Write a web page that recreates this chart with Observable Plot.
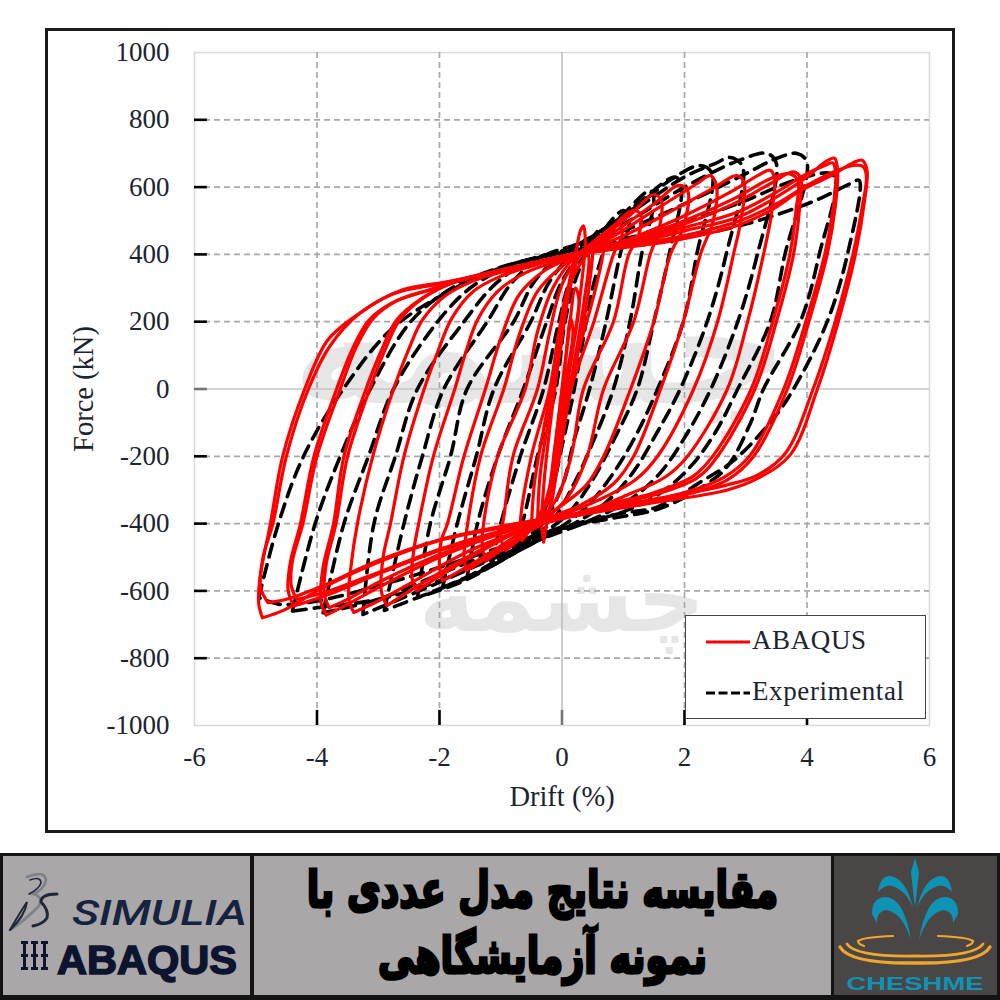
<!DOCTYPE html>
<html><head><meta charset="utf-8">
<script src="https://cdn.jsdelivr.net/npm/d3@7"></script>
<script src="https://cdn.jsdelivr.net/npm/@observablehq/plot@0.6"></script>
<style>
html,body{margin:0;padding:0;background:#fff;width:1000px;height:1000px;overflow:hidden}
#page{position:relative;width:1000px;height:1000px}
#box{position:absolute;left:45px;top:28px;width:904px;height:799px;border:3px solid #1a1a1a}
#chart{position:absolute;left:0;top:0;width:1000px;height:850px}
#legend{position:absolute;left:685px;top:615px;width:239px;height:102px;background:#fff;border:1.5px solid #444;font-family:"Liberation Serif",serif;font-size:27px;color:#1c2430}
#banner{position:absolute;left:0;top:853px;width:1000px;height:147px;background:#141414}
.cell{position:absolute;top:3px;height:139px;background:#a9a7a8}
.cell svg{overflow:visible}
#title{font-family:"DejaVu Sans",sans-serif;font-weight:bold;color:#000;-webkit-text-stroke:3px #000;text-align:center;direction:rtl;font-size:50px;transform:scaleX(.733);white-space:nowrap}
</style></head><body>
<div id="page">
<div id="box"></div>
<div id="chart"></div>
<div id="legend">
<svg width="239" height="102" style="position:absolute;left:0;top:0">
<line id="legA" x1="20" x2="64" y1="26" y2="26" stroke="#ff0000" stroke-width="3"/>
<line id="legE" x1="20" x2="64" y1="77" y2="77" stroke="#000" stroke-width="3" stroke-dasharray="9 3.5"/>
</svg>
<div id="legAt" style="position:absolute;left:66px;top:9px;letter-spacing:.6px"></div>
<div id="legEt" style="position:absolute;left:66px;top:60px;letter-spacing:.6px"></div>
</div>
<div id="banner">
<div class="cell" style="left:3px;width:247px">
<svg width="247" height="139" style="position:absolute;left:0;top:0">
<g fill="none" stroke-linecap="round">
<path d="M24 21 Q42 14 43 24 Q41 34 30 38 Q40 40 36 50 Q20 66 7 74" stroke="#7d8088" stroke-width="2.6"/>
<path d="M7 74 Q16 58 24 46 Q22 60 7 74" stroke="#22263a" stroke-width="2"/>
<path d="M27 24 Q38 20 38 27 Q36 33 26 38" stroke="#22263a" stroke-width="1.6"/>
<path d="M54 38 Q38 38 38 46 Q46 54 44 62 Q40 68 30 70" stroke="#22263a" stroke-width="3"/>
</g>
<text x="69" y="69" font-family="Roboto,sans-serif" font-style="italic" font-size="35" font-weight="500" fill="#16233f" textLength="175" lengthAdjust="spacingAndGlyphs">SIMULIA</text>
<text x="54" y="118" font-family="'Liberation Sans',sans-serif" font-weight="bold" font-size="41" fill="#0d1430" stroke="#0d1430" stroke-width="1.6" textLength="180" lengthAdjust="spacingAndGlyphs">ABAQUS</text>
<g fill="#0d1430">
<rect x="18" y="85" width="7" height="3"/><rect x="28" y="85" width="7" height="3"/><rect x="38" y="85" width="7" height="3"/>
<rect x="20" y="88" width="3" height="10"/><rect x="30" y="88" width="3" height="10"/><rect x="40" y="88" width="3" height="10"/>
<rect x="18" y="98" width="7" height="3"/><rect x="28" y="98" width="7" height="3"/><rect x="38" y="98" width="7" height="3"/>
<rect x="20" y="101" width="3" height="10"/><rect x="30" y="101" width="3" height="10"/><rect x="40" y="101" width="3" height="10"/>
<rect x="18" y="111" width="7" height="3"/><rect x="28" y="111" width="7" height="3"/><rect x="38" y="111" width="7" height="3"/>
</g>
</svg>
</div>
<div class="cell" style="left:254px;width:577px">
<div id="title" style="position:absolute;left:-80px;top:1px;width:737px;line-height:66px"><div id="t1"></div><div id="t2"></div></div>
</div>
<div class="cell" style="left:834px;width:163px;background:#4a4646">
<svg width="163" height="139" style="position:absolute;left:0;top:0">
<g fill="#0f93b4">
<path d="M81 2 L85 16 L82 44 L81 50 L80 44 L77 16 Z"/>
<path d="M79 52 Q72 22 56 20 Q46 20 44 36 Q52 28 58 30 Q72 34 79 52 Z"/>
<path d="M83 52 Q90 22 106 20 Q116 20 118 36 Q110 28 104 30 Q90 34 83 52 Z"/>
<path d="M77 84 Q70 42 52 41 Q38 41 38 58 L43 67 Q42 56 52 54 Q68 56 77 84 Z"/>
<path d="M85 84 Q92 42 110 41 Q124 41 124 58 L119 67 Q120 56 110 54 Q94 56 85 84 Z"/>
</g>
<g fill="none" stroke="#f0a62b" stroke-linecap="round">
<path d="M59 80 Q30 81 24 85 Q24 88 30 90" stroke-width="2.2"/>
<path d="M104 80 Q133 81 139 85 Q139 88 133 90" stroke-width="2.2"/>
<path d="M13 88 Q22 101 81 100 Q140 101 149 88" stroke-width="2.8"/>
<path d="M6 91 Q16 108 81 107 Q146 108 156 91" stroke-width="3.4"/>
</g>
<text x="81" y="134" text-anchor="middle" font-family="'Liberation Sans',sans-serif" font-weight="bold" font-size="19" fill="#0f93b4" textLength="137" lengthAdjust="spacingAndGlyphs">CHESHME</text>
</svg>
</div>
</div>
</div>
<script>
const xTicks=[-6,-4,-2,0,2,4,6];
const yTicks=[-1000,-800,-600,-400,-200,0,200,400,600,800,1000];
const xGrid=[-4,-2,2,4];
const yGrid=[-800,-600,-400,-200,200,400,600,800];
const seriesNames=["ABAQUS","Experimental"];
const titleLines=["مقایسه نتایج مدل عددی با","نمونه آزمایشگاهی"];
const watermark=["چشمه"];

const abaqus01=[[-4.89,-680],[-4.95,-640],[-4.93,-560],[-4.76,-400],[-4.56,-200],[-4.2,0],[-3.83,144],[-3.4,213],[-2.75,283],[-1.98,313],[-0.8,358],[0,391],[1,420],[1.82,441],[2.86,486],[3.4,530],[3.9,590],[4.4,635],[4.75,672],[4.9,680],[4.98,650],[4.94,560],[4.79,400],[4.51,200],[4.17,0],[3.73,-195],[3.2,-265],[2.7,-300],[1.6,-335],[0,-382],[-0.9,-410],[-2,-450],[-3.07,-520],[-3.9,-590],[-4.55,-658],[-4.89,-680]];
const abaqus02=[[-4.8,-635],[-4.92,-590],[-4.88,-500],[-4.72,-400],[-4.5,-200],[-4.14,0],[-3.78,130],[-3.3,225],[-2.6,295],[-1.9,318],[-0.8,360],[0,395],[1,425],[1.9,452],[2.9,500],[3.5,550],[4.0,605],[4.5,650],[4.8,665],[4.92,660],[4.97,630],[4.9,540],[4.75,400],[4.46,200],[4.1,0],[3.65,-190],[3.2,-255],[2.7,-285],[1.6,-325],[0,-378],[-0.9,-405],[-2,-448],[-3.07,-515],[-3.9,-585],[-4.5,-625],[-4.8,-635]];
const abaqus03=[[-4.38,-645],[-4.47,-600],[-4.44,-520],[-4.27,-400],[-4.05,-200],[-3.68,0],[-3.42,120],[-3.15,205],[-2.75,258],[-2.2,292],[-1.6,325],[-0.8,358],[0,392],[1,425],[2,470],[2.86,510],[3.5,570],[4,630],[4.3,675],[4.45,686],[4.5,650],[4.46,540],[4.33,400],[4.03,200],[3.68,0],[3.13,-200],[2.7,-270],[2,-315],[1,-350],[0,-385],[-1,-425],[-2,-480],[-3,-550],[-3.8,-610],[-4.38,-645]];
const abaqus04=[[-4.33,-625],[-4.42,-585],[-4.4,-510],[-4.23,-400],[-4.0,-200],[-3.62,0],[-3.36,125],[-3.08,210],[-2.7,262],[-2.15,296],[-1.6,328],[-0.8,360],[0,394],[1,430],[2,480],[2.86,525],[3.5,585],[4,640],[4.3,665],[4.42,672],[4.47,640],[4.42,530],[4.29,400],[3.98,200],[3.62,0],[3.08,-195],[2.65,-262],[2,-308],[1,-345],[0,-382],[-1,-422],[-2,-476],[-3,-545],[-3.8,-600],[-4.33,-625]];
const abaqus05=[[-3.85,-672],[-3.94,-630],[-3.9,-530],[-3.73,-400],[-3.56,-200],[-3.2,0],[-2.96,110],[-2.7,205],[-2.3,268],[-1.8,315],[-1,350],[0,392],[1,430],[2,490],[2.8,550],[3.4,610],[3.78,645],[3.9,625],[3.88,540],[3.78,400],[3.5,200],[3.15,0],[2.54,-200],[2.2,-265],[1.5,-315],[0.7,-350],[0,-385],[-1,-430],[-2,-500],[-3,-590],[-3.5,-640],[-3.85,-672]];
const abaqus06=[[-3.8,-650],[-3.88,-610],[-3.85,-520],[-3.69,-400],[-3.5,-200],[-3.14,0],[-2.9,112],[-2.64,208],[-2.25,272],[-1.75,318],[-1,354],[0,394],[1,436],[2,500],[2.8,565],[3.4,625],[3.7,640],[3.85,620],[3.82,530],[3.72,400],[3.44,200],[3.09,0],[2.48,-195],[2.15,-258],[1.5,-308],[0.7,-345],[0,-382],[-1,-426],[-2,-492],[-3,-575],[-3.5,-625],[-3.8,-650]];
const abaqus07=[[-3.4,-664],[-3.48,-625],[-3.44,-520],[-3.34,-400],[-3.09,-200],[-2.75,0],[-2.52,110],[-2.28,205],[-1.9,278],[-1.4,325],[-0.7,360],[0,392],[1,440],[2,515],[2.8,590],[3.2,635],[3.4,650],[3.47,625],[3.42,520],[3.29,400],[3.03,200],[2.7,0],[2.05,-200],[1.7,-260],[1,-320],[0.3,-370],[-0.5,-410],[-1.5,-480],[-2.5,-580],[-3,-630],[-3.4,-664]];
const abaqus08=[[-2.86,-644],[-2.95,-600],[-2.92,-500],[-2.8,-400],[-2.58,-200],[-2.25,0],[-2.03,110],[-1.8,210],[-1.45,290],[-1,335],[-0.4,370],[0.2,400],[1,455],[1.8,530],[2.5,600],[2.85,634],[2.97,615],[2.93,510],[2.8,400],[2.54,200],[2.15,0],[1.56,-200],[1.2,-270],[0.6,-330],[0,-375],[-0.8,-430],[-1.6,-505],[-2.4,-590],[-2.86,-644]];
const abaqus09=[[-2.37,-600],[-2.45,-560],[-2.42,-480],[-2.34,-400],[-2.1,-200],[-1.75,0],[-1.57,110],[-1.38,205],[-1.05,290],[-0.6,345],[0,385],[0.7,440],[1.5,530],[2.2,610],[2.42,634],[2.52,605],[2.47,500],[2.26,400],[1.98,200],[1.61,0],[1.17,-200],[0.85,-280],[0.3,-345],[-0.4,-395],[-1.2,-470],[-1.9,-545],[-2.37,-600]];
const abaqus10=[[-1.95,-570],[-2,-525],[-1.97,-450],[-1.87,-400],[-1.6,-200],[-1.25,0],[-1,150],[-0.7,280],[-0.3,350],[0.2,395],[0.8,460],[1.5,550],[1.9,605],[2.05,590],[1.98,480],[1.77,400],[1.5,200],[1.12,0],[0.68,-200],[0.4,-285],[0,-345],[-0.5,-405],[-1.2,-490],[-1.95,-570]];
const abaqus11=[[-1.56,-540],[-1.6,-500],[-1.54,-400],[-1.33,-200],[-0.95,0],[-0.7,160],[-0.4,290],[0,365],[0.5,430],[1.1,515],[1.5,578],[1.62,560],[1.58,470],[1.44,400],[1.17,200],[0.68,0],[0.41,-200],[0.1,-320],[-0.3,-390],[-0.9,-465],[-1.56,-540]];
const abaqus12=[[-1.24,-510],[-1.3,-470],[-1.28,-400],[-1.05,-200],[-0.6,0],[-0.4,170],[-0.15,300],[0.2,390],[0.7,460],[1.15,530],[1.28,520],[1.24,450],[1.09,400],[0.84,200],[0.35,0],[0.15,-200],[-0.1,-330],[-0.5,-410],[-1.24,-510]];
const abaqus13=[[-0.92,-480],[-1,-440],[-0.95,-380],[-0.8,-200],[-0.4,0],[-0.2,170],[0,310],[0.3,400],[0.7,465],[0.92,490],[0.98,460],[0.84,400],[0.52,200],[0.15,0],[-0.05,-200],[-0.25,-340],[-0.6,-430],[-0.92,-480]];
const abaqus14=[[-0.65,-450],[-0.68,-400],[-0.5,-200],[-0.2,0],[-0.05,170],[0.1,300],[0.4,400],[0.65,455],[0.68,420],[0.55,300],[0.25,100],[0.05,-50],[-0.1,-200],[-0.3,-350],[-0.65,-450]];
const abaqus15=[[-0.3,-455],[-0.33,-400],[-0.28,-250],[-0.12,0],[0,170],[0.1,300],[0.22,400],[0.3,470],[0.35,485],[0.38,440],[0.33,330],[0.18,120],[0.02,-60],[-0.1,-200],[-0.2,-350],[-0.28,-430],[-0.3,-455]];
const abaqus16=[[-0.2,-300],[-0.1,-150],[0,0],[0.1,150],[0.22,300],[0.28,260],[0.15,100],[0,-40],[-0.12,-180],[-0.2,-300]];
const abaqus17=[[-0.14,-210],[-0.05,-80],[0.05,70],[0.14,210],[0.18,170],[0.06,20],[-0.05,-110],[-0.14,-210]];
const abaqus18=[[-0.5,-420],[-0.45,-280],[-0.28,-100],[-0.1,60],[0.05,230],[0.25,380],[0.48,430],[0.44,300],[0.28,130],[0.1,-40],[-0.08,-240],[-0.25,-380],[-0.5,-420]];
const abaqus19=[[-0.4,-410],[-0.36,-260],[-0.2,-70],[-0.04,100],[0.1,270],[0.3,400],[0.42,400],[0.36,260],[0.2,80],[0.04,-90],[-0.14,-270],[-0.4,-410]];

const exp01=[[-4.95,-620],[-4.63,-400],[-4.22,-200],[-3.57,0],[-2.8,175],[-2,275],[-1,360],[0,405],[1,430],[2,450],[3,490],[3.7,530],[4.2,565],[4.7,610],[4.85,620],[4.66,400],[4.33,200],[3.78,0],[3.45,-88],[2.8,-213],[2.3,-272],[1.55,-351],[0.95,-370],[0,-411],[-1,-470],[-2,-530],[-3,-585],[-4,-630],[-4.6,-640],[-4.95,-620]];
const exp02=[[-4.4,-660],[-4.03,-400],[-3.62,-200],[-3.13,0],[-2.47,200],[-1.8,300],[-1,362],[0,405],[1,445],[2,495],[3,560],[3.8,620],[4.43,635],[4.2,400],[3.89,200],[3.29,0],[3.08,-100],[2.7,-230],[2.3,-290],[1.6,-355],[0.8,-385],[0,-415],[-1,-490],[-2,-570],[-3,-625],[-4,-650],[-4.4,-660]];
const exp03=[[-3.9,-665],[-3.56,-400],[-3.16,-200],[-2.75,0],[-2.03,200],[-1.5,300],[-0.8,370],[0,410],[1,470],[2,550],[3,640],[3.5,685],[3.84,700],[4,673],[3.64,400],[3.4,200],[2.87,0],[2.5,-130],[2.1,-230],[1.6,-310],[1,-365],[0.3,-400],[-0.5,-440],[-1.2,-490],[-2,-550],[-3,-625],[-3.9,-665]];
const exp04=[[-3.25,-670],[-3.07,-400],[-2.72,-200],[-2.36,0],[-1.6,200],[-1.1,310],[-0.5,385],[0.2,420],[1,490],[2,600],[2.9,680],[3.35,700],[3.5,670],[3.19,400],[2.87,200],[2.43,0],[2.05,-130],[1.6,-250],[1.1,-330],[0.4,-395],[-0.4,-450],[-1.2,-510],[-2.2,-590],[-3.25,-670]];
const exp05=[[-2.9,-658],[-2.58,-400],[-2.28,-200],[-1.93,0],[-1.22,200],[-0.8,320],[-0.3,395],[0.3,435],[1,510],[2,630],[2.5,670],[2.75,688],[2.95,660],[2.68,400],[2.37,200],[1.93,0],[1.55,-130],[1.15,-250],[0.7,-340],[0.2,-400],[-0.5,-460],[-1.3,-540],[-2.36,-620],[-2.9,-658]];
const exp06=[[-2.36,-620],[-2.15,-400],[-1.82,-200],[-1.55,0],[-0.79,200],[-0.45,320],[0,400],[0.5,455],[1.2,540],[1.8,625],[2.26,664],[2.45,640],[2.2,400],[1.98,200],[1.56,0],[1.2,-140],[0.8,-260],[0.4,-350],[-0.1,-420],[-0.8,-490],[-1.6,-570],[-2.36,-620]];
const exp07=[[-1.95,-590],[-1.71,-400],[-1.4,-200],[-1.11,0],[-0.51,200],[-0.2,320],[0.2,405],[0.7,470],[1.3,560],[1.85,630],[1.95,600],[1.75,400],[1.5,200],[1.23,0],[0.85,-150],[0.5,-270],[0.1,-370],[-0.4,-440],[-1.1,-520],[-1.95,-590]];
const exp08=[[-1.55,-560],[-1.38,-400],[-1.05,-200],[-0.63,0],[-0.25,200],[0,320],[0.4,420],[1,520],[1.44,590],[1.5,560],[1.3,400],[1.11,200],[0.84,0],[0.5,-160],[0.2,-280],[-0.2,-400],[-0.8,-480],[-1.55,-560]];
const exp09=[[-1.15,-520],[-1,-400],[-0.68,-200],[-0.3,0],[-0.05,200],[0.15,330],[0.55,440],[1,530],[1.1,500],[0.95,400],[0.72,200],[0.45,0],[0.2,-150],[0,-290],[-0.4,-420],[-1.15,-520]];
const exp10=[[-0.8,-470],[-0.65,-400],[-0.4,-200],[-0.1,0],[0.05,200],[0.25,340],[0.6,470],[0.68,430],[0.5,300],[0.2,0],[0,-170],[-0.2,-320],[-0.5,-430],[-0.8,-470]];

const abaqusLoops=[abaqus01,abaqus02,abaqus03,abaqus04,abaqus05,abaqus06,abaqus07,abaqus08,abaqus09,abaqus10,abaqus11,abaqus12,abaqus13,abaqus14,abaqus15,abaqus16,abaqus17,abaqus18,abaqus19];
const expLoops=[exp01,exp02,exp03,exp04,exp05,exp06,exp07,exp08,exp09,exp10];
const rows=(loops)=>loops.flatMap((loop,i)=>loop.map(([drift,force])=>({drift,force,loop:i})));

const serif="'Liberation Serif',serif";
const ink="#1c2430";
const plot=Plot.plot({
  width:1000,height:850,
  marginLeft:194,marginRight:71,marginTop:52,marginBottom:125,
  style:{background:"transparent",fontFamily:serif,maxWidth:"none"},
  x:{domain:[-6,6]},
  y:{domain:[-1000,1000]},
  marks:[
    Plot.frame({stroke:"#d9d9d9",strokeWidth:1.5}),
    Plot.text(watermark,{x:[0],y:[-628],text:d=>d,fontSize:95,fontWeight:"bold",fontFamily:"'DejaVu Sans',sans-serif",fill:"#e6e6e6"}),
    Plot.text(watermark,{x:[-0.35],y:[115],text:d=>d,fontSize:165,fontWeight:"bold",fontFamily:"'DejaVu Sans',sans-serif",fill:"#e6e6e6"}),
    Plot.ruleX(xGrid,{stroke:"#a8a8a8",strokeWidth:1.7,strokeDasharray:"6 4"}),
    Plot.ruleY(yGrid,{stroke:"#a8a8a8",strokeWidth:1.7,strokeDasharray:"6 4"}),
    Plot.ruleX([0],{stroke:"#bdbdbd",strokeWidth:1.5}),
    Plot.ruleY([0],{stroke:"#c4c4c4",strokeWidth:1.5}),
    Plot.ruleY(yGrid,{x1:-6,x2:-5.79,stroke:"#000",strokeWidth:2.6}),
    Plot.ruleY([0],{x1:-6,x2:-5.79,stroke:"#777",strokeWidth:2.6}),
    Plot.ruleX(xGrid,{y1:-1000,y2:-955,stroke:"#000",strokeWidth:2.6}),
    Plot.ruleX([0],{y1:-1000,y2:-955,stroke:"#777",strokeWidth:2.6}),
    Plot.line(rows(expLoops),{x:"drift",y:"force",z:"loop",stroke:"#000",strokeWidth:3.6,strokeDasharray:"13 8",curve:"catmull-rom"}),
    Plot.line(rows(abaqusLoops),{x:"drift",y:"force",z:"loop",stroke:"#ff0000",strokeWidth:3.2,curve:"catmull-rom"}),
    Plot.axisX(xTicks,{anchor:"bottom",tickSize:0,tickPadding:21,fontSize:27,fill:ink,tickFormat:d=>String(d),label:null}),
    Plot.axisY(yTicks,{anchor:"left",tickSize:0,tickPadding:25,fontSize:27,fill:ink,tickFormat:d=>String(d),label:null}),
    Plot.axisX({anchor:"bottom",ticks:[],tickSize:0,fontSize:28.5,fill:ink,label:"Drift (%)",labelAnchor:"center",labelOffset:80,labelArrow:"none"}),
    Plot.axisY({anchor:"left",ticks:[],tickSize:0,fontSize:28.5,fill:ink,label:"Force (kN)",labelAnchor:"center",labelOffset:122,labelArrow:"none"})
  ]
});
plot.style.position="absolute";
document.getElementById("chart").appendChild(plot);
document.getElementById("legAt").textContent=seriesNames[0];
document.getElementById("legEt").textContent=seriesNames[1];
document.getElementById("t1").textContent=titleLines[0];
document.getElementById("t2").textContent=titleLines[1];
</script>
</body></html>
